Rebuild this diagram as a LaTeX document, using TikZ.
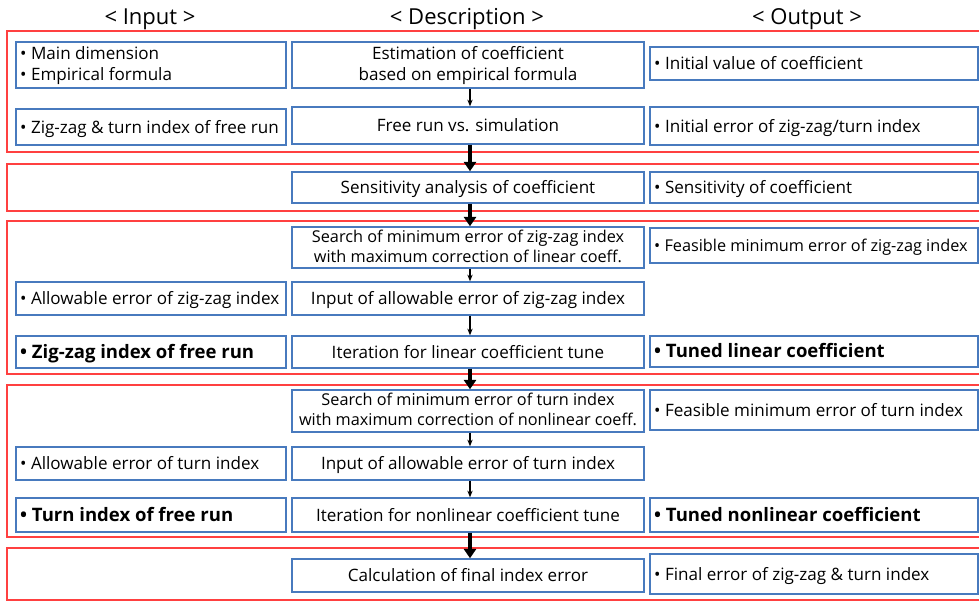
\documentclass[tikz,border=0pt]{standalone}
\usepackage{fontspec}
\setmainfont{Open Sans}
\usetikzlibrary{arrows.meta}
\definecolor{fred}{RGB}{255,64,64}
\definecolor{bblue}{RGB}{72,122,190}
% \pbox{name}{x1}{y1}{x2}{y2}{anchor west|center}{text style}{text}
\newcommand\pbox[8]{%
  \pgfmathsetmacro\pbw{(#4-#2)*0.75}%
  \pgfmathsetmacro\pbh{(#5-#3)*0.75}%
  \node[boxframe, minimum width=\pbw pt, minimum height=\pbh pt] (#1) at ({(#2+#4)/2},{-(#3+#5)/2}) {};
  \node[txt, #7, anchor=#6] (#1t) at (#1.#6) {#8};}
\tikzset{
  boxframe/.style={draw=bblue, line width=1.1pt, inner sep=0pt},
  txt/.style={inner xsep=3.5pt, inner ysep=0pt, yshift=-1.3pt, align=left,
     font=\fontsize{12.8}{16}\selectfont,
     execute at begin node=\strut, execute at end node=\strut},
  ctr/.style={align=center},
  smalltxt/.style={font=\fontsize{12.2}{15}\selectfont},
  narrowtxt/.style={font=\fontsize{12.2}{15}\selectfont},
  boldtxt/.style={font=\bfseries\fontsize{13.9}{16}\selectfont},
  frame/.style={draw=fred, line width=1.2pt},
  head/.style={font=\fontsize{16.5}{20}\selectfont},
  thinarrow/.style={line width=0.8pt, -{Stealth[length=5pt,width=4pt]}},
  thickarrow/.style={line width=2.4pt, -{Triangle[length=7pt,width=9pt]}},
}
\begin{document}
\begin{tikzpicture}[x=0.75pt,y=0.75pt]
\useasboundingbox (0,0) rectangle (979,-601);
\clip (0,0) rectangle (979,-601);
% headers
\node[head] (hin) at (150,-19) {< Input >};
\node[head] (hde) at (467,-19) {< Description >};
\node[head] (hou) at (807,-19) {< Output >};
% frames
\draw[frame] (7,-31) rectangle (990,-152);
\draw[frame] (7,-164) rectangle (990,-211);
\draw[frame] (7,-221) rectangle (990,-374);
\draw[frame] (7,-385) rectangle (990,-537);
\draw[frame] (7,-548) rectangle (990,-600);
% boxes
\pbox{i1}{16}{42}{286}{88}{west}{}{• Main dimension\\• Empirical formula}
\pbox{d1}{292}{42}{644}{88}{center}{ctr}{Estimation of coefficient\\based on empirical formula}
\pbox{o1}{650}{47}{978}{80}{west}{}{• Initial value of coefficient}
\pbox{i2}{16}{109}{286}{145}{west}{}{• Zig-zag \& turn index of free run}
\pbox{d2}{292}{107}{644}{144}{center}{ctr}{Free run vs. simulation}
\pbox{o2}{650}{107}{978}{145}{west}{}{• Initial error of zig-zag/turn index}
\pbox{d3}{292}{172}{644}{203}{center}{ctr}{Sensitivity analysis of coefficient}
\pbox{o3}{650}{172}{978}{203}{west}{}{• Sensitivity of coefficient}
\pbox{d4}{292}{227}{644}{268}{center}{ctr,smalltxt}{Search of minimum error of zig-zag index\\with maximum correction of linear coeff.}
\pbox{o4}{650}{228}{978}{263}{west}{narrowtxt}{• Feasible minimum error of zig-zag index}
\pbox{i5}{16}{282}{286}{315}{west}{}{• Allowable error of zig-zag index}
\pbox{d5}{292}{282}{644}{315}{center}{ctr}{Input of allowable error of zig-zag index}
\pbox{i6}{16}{336}{286}{368}{west}{boldtxt}{• Zig-zag index of free run}
\pbox{d6}{292}{336}{644}{368}{center}{ctr}{Iteration for linear coefficient tune}
\pbox{o6}{650}{336}{978}{367}{west}{boldtxt}{• Tuned linear coefficient}
\pbox{d7}{292}{390}{644}{432}{center}{ctr,smalltxt}{Search of minimum error of turn index\\with maximum correction of nonlinear coeff.}
\pbox{o7}{650}{390}{978}{430}{west}{}{• Feasible minimum error of turn index}
\pbox{i8}{16}{447}{286}{480}{west}{}{• Allowable error of turn index}
\pbox{d8}{292}{447}{644}{480}{center}{ctr}{Input of allowable error of turn index}
\pbox{i9}{16}{498}{286}{532}{west}{boldtxt}{• Turn index of free run}
\pbox{d9}{292}{498}{644}{532}{center}{ctr}{Iteration for nonlinear coefficient tune}
\pbox{o9}{650}{498}{978}{532}{west}{boldtxt}{• Tuned nonlinear coefficient}
\pbox{d10}{292}{559}{644}{592}{center}{ctr}{Calculation of final index error}
\pbox{o10}{650}{554}{978}{594}{west}{}{• Final error of zig-zag \& turn index}
% arrows
\coordinate (ax) at (470,0);
\draw[thinarrow] (d1.south -| ax) -- (d2.north -| ax);
\draw[thickarrow] (d2.south -| ax) -- (d3.north -| ax);
\draw[thickarrow] (d3.south -| ax) -- (d4.north -| ax);
\draw[thinarrow] (d4.south -| ax) -- (d5.north -| ax);
\draw[thinarrow] (d5.south -| ax) -- (d6.north -| ax);
\draw[thickarrow] (d6.south -| ax) -- (d7.north -| ax);
\draw[thinarrow] (d7.south -| ax) -- (d8.north -| ax);
\draw[thinarrow] (d8.south -| ax) -- (d9.north -| ax);
\draw[thickarrow] (d9.south -| ax) -- (d10.north -| ax);
\end{tikzpicture}
\end{document}
